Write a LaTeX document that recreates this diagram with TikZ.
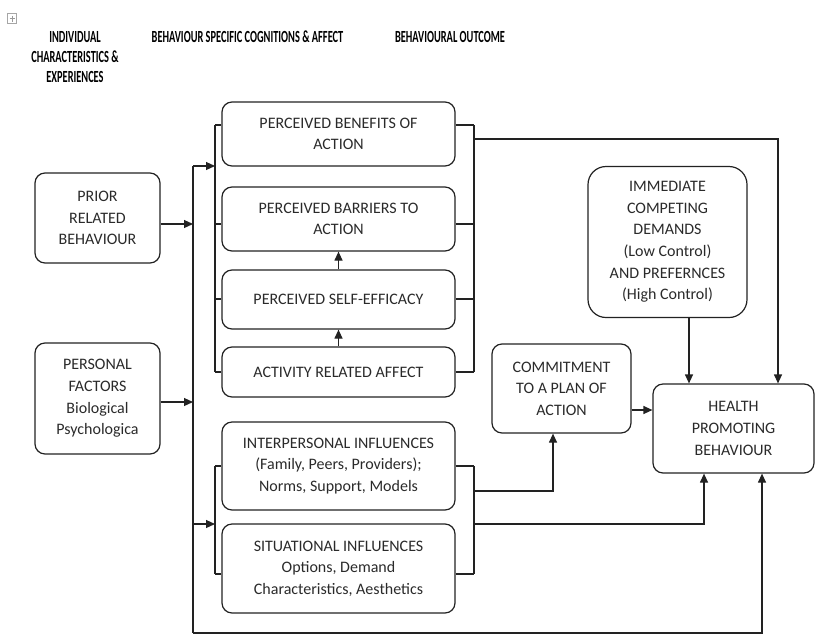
\documentclass[tikz,border=0pt]{standalone}
\usepackage{fontspec}
\setmainfont{Carlito}
\usetikzlibrary{arrows.meta}
\definecolor{ink}{HTML}{222222}
\definecolor{txt}{HTML}{2A2A2A}
\tikzset{
  box/.style={draw=ink, line width=1.2pt, rounded corners=10pt, align=center, inner sep=0pt,
    text=txt, font=\fontsize{16}{21.6}\selectfont},
  hdr/.style={text=black, align=center, inner sep=0pt, font=\fontsize{17}{20}\selectfont\bfseries},
  ln/.style={draw=ink, line width=1.2pt},
  arr/.style={ln, -{Triangle[length=9pt,width=8pt]}},
}
\newcommand{\squeeze}[1]{\scalebox{0.61}[1]{#1}}
\begin{document}
\begin{tikzpicture}[x=1pt,y=-1pt]
\useasboundingbox (0,0) rectangle (816,635);

% move handle
\draw[draw=gray!70, line width=0.6pt] (7.5,13.5) rectangle (16.5,23.5);
\draw[draw=gray!80, line width=0.6pt] (9.5,18.5) -- (14.5,18.5) (12,15.5) -- (12,21.5);

% headers
\node[hdr] (h1) at (75,57) {\squeeze{INDIVIDUAL}\\\squeeze{CHARACTERISTICS \&}\\\squeeze{EXPERIENCES}};
\node[hdr] (h2) at (247.5,37) {\squeeze{BEHAVIOUR SPECIFIC COGNITIONS \& AFFECT}};
\node[hdr] (h3) at (450,37) {\squeeze{BEHAVIOURAL OUTCOME}};

% boxes
\node[box, minimum width=125pt, minimum height=90pt] (prior) at (97.5,218) {PRIOR\\RELATED\\BEHAVIOUR};
\node[box, minimum width=125pt, minimum height=111pt] (personal) at (97.5,398.5) {PERSONAL\\FACTORS\\Biological\\Psychologica};
\node[box, minimum width=233pt, minimum height=64pt] (benefits) at (338.5,134) {PERCEIVED BENEFITS OF\\ACTION};
\node[box, minimum width=233pt, minimum height=64pt] (barriers) at (338.5,219) {PERCEIVED BARRIERS TO\\ACTION};
\node[box, minimum width=233pt, minimum height=59pt] (selfeff) at (338.5,299.5) {PERCEIVED SELF-EFFICACY};
\node[box, minimum width=233pt, minimum height=50pt] (activity) at (338.5,372) {ACTIVITY RELATED AFFECT};
\node[box, minimum width=233pt, minimum height=88pt] (interp) at (338.5,466) {INTERPERSONAL INFLUENCES\\(Family, Peers, Providers);\\Norms, Support, Models};
\node[box, minimum width=233pt, minimum height=89pt] (situ) at (338.5,568.5) {SITUATIONAL INFLUENCES\\Options, Demand\\Characteristics, Aesthetics};
\node[box, minimum width=159pt, minimum height=151pt, rounded corners=18pt] (immed) at (667.5,242) {IMMEDIATE\\COMPETING\\DEMANDS\\(Low Control)\\AND PREFERNCES\\(High Control)};
\node[box, minimum width=139pt, minimum height=89pt] (commit) at (561.5,388.5) {COMMITMENT\\TO A PLAN OF\\ACTION};
\node[box, minimum width=161pt, minimum height=89pt] (health) at (733.5,428.5) {HEALTH\\PROMOTING\\BEHAVIOUR};

% junction coordinates
\coordinate (busT) at (193,166);
\coordinate (busB) at (193,633);
\coordinate (jPrior) at (193,224);
\coordinate (jPers) at (193,402);
\coordinate (jSitu) at (193,524);
\coordinate (lbT) at (215,125);
\coordinate (lbB) at (215,372);
\coordinate (lbTop) at (215,166);
\coordinate (lbLow) at (215,524);
\coordinate (rbT) at (474,125);
\coordinate (rbB) at (474,372);
\coordinate (llT) at (215,466);
\coordinate (llB) at (215,574);
\coordinate (rlT) at (474,466);
\coordinate (rlB) at (474,574);
\coordinate (outTop) at (474,139);
\coordinate (cornTop) at (778,139);
\coordinate (oInt) at (474,491);
\coordinate (cInt) at (553,491);
\coordinate (oSit) at (474,524);
\coordinate (cSit) at (704,524);
\coordinate (cLoop) at (762,633);

% left bus
\draw[ln] (busT) -- (busB);
\draw[arr] ([yshift=-6pt]prior.east) -- (jPrior);
\draw[arr] ([yshift=-3.5pt]personal.east) -- (jPers);
\draw[arr] (busT) -- (lbTop);
\draw[arr] (jSitu) -- (lbLow);

% left bracket, upper group
\draw[ln] (lbT) -- (lbB);
\draw[ln] (lbT) -- (benefits.west |- lbT);
\draw[ln] (215,224) -- ([yshift=-5pt]barriers.west);
\draw[ln, line width=1.7pt] (215,299) -- (selfeff.west |- 0,299);
\draw[ln] (lbB) -- (activity.west);
% right bracket, upper group
\draw[ln] (rbT) -- (rbB);
\draw[ln] (benefits.east |- rbT) -- (rbT);
\draw[ln] ([yshift=-5pt]barriers.east) -- (474,224);
\draw[ln, line width=1.7pt] (selfeff.east |- 0,299) -- (474,299);
\draw[ln] (activity.east) -- (rbB);

% internal arrows
\draw[arr] (selfeff.north) -- (barriers.south);
\draw[arr] (activity.north) -- (selfeff.south);

% lower group brackets
\draw[ln] (llT) -- (llB);
\draw[ln] (llT) -- (interp.west);
\draw[ln] (llB) -- ([yshift=-5.5pt]situ.west);
\draw[ln] (rlT) -- (rlB);
\draw[ln] (interp.east) -- (rlT);
\draw[ln] ([yshift=-5.5pt]situ.east) -- (rlB);

% outputs
\draw[arr] (outTop) -- (cornTop) -- (health.north -| cornTop);
\draw[arr] (immed.south -| 689,0) -- (health.north -| 689,0);
\draw[arr] ([yshift=-21.5pt]commit.east) -- ([yshift=18.5pt]health.west);
\draw[arr] (oInt) -- (cInt) -- (commit.south -| cInt);
\draw[arr] (oSit) -- (cSit) -- (health.south -| cSit);
\draw[arr] (busB) -- (cLoop) -- (health.south -| cLoop);
\end{tikzpicture}
\end{document}
